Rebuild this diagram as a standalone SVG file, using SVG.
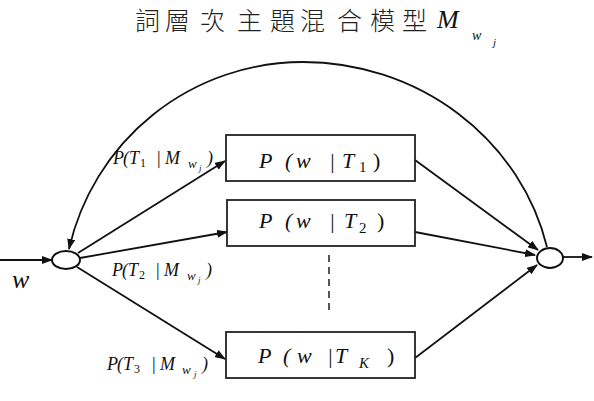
<svg xmlns="http://www.w3.org/2000/svg" width="594" height="401" viewBox="0 0 594 401">
<style>
.ln{fill:none;stroke:#111;stroke-width:1.8}
.box{fill:#fff;stroke:#222;stroke-width:1.8}
.node{fill:#fff;stroke:#111;stroke-width:2}
.it{font-family:"Liberation Serif","Times New Roman",serif;font-style:italic;fill:#111}
.rm{font-family:"Liberation Serif","Times New Roman",serif;fill:#111}
.cjk{font-family:"Noto Sans CJK TC","Noto Sans CJK SC",sans-serif;fill:#222;font-size:25px;font-weight:300}
</style>
<defs>
<marker id="ah" markerUnits="userSpaceOnUse" markerWidth="11" markerHeight="8" refX="10" refY="4" orient="auto">
<path d="M0,0 L11,4 L0,8 z" fill="#111"/>
</marker>
</defs>
<rect width="594" height="401" fill="#fff"/>
<g id="title">
<text class="cjk" y="30"><tspan x="135">詞</tspan><tspan x="165">層</tspan><tspan x="200">次</tspan><tspan x="237">主</tspan><tspan x="270">題</tspan><tspan x="300">混</tspan><tspan x="337">合</tspan><tspan x="370">模</tspan><tspan x="402">型</tspan></text>
<text class="it" x="437" y="28" font-size="26">M</text>
<text class="it" x="472" y="40" font-size="14">w</text>
<text class="it" x="493" y="46" font-size="11">j</text>
</g>
<g id="connectors">
<line class="ln" x1="0" y1="260" x2="52" y2="260" marker-end="url(#ah)"/>
<line class="ln" x1="562" y1="257" x2="592" y2="257" marker-end="url(#ah)"/>
<path class="ln" d="M547,247 A251,240 0 0 0 303,62 A240,240 0 0 0 69,249" marker-end="url(#ah)"/>
<line class="ln" x1="78" y1="253" x2="225" y2="161" marker-end="url(#ah)"/>
<line class="ln" x1="80" y1="258" x2="227" y2="232" marker-end="url(#ah)"/>
<line class="ln" x1="77" y1="267" x2="225" y2="359" marker-end="url(#ah)"/>
<line class="ln" x1="415" y1="160" x2="538" y2="250" marker-end="url(#ah)"/>
<line class="ln" x1="415" y1="232" x2="535" y2="255" marker-end="url(#ah)"/>
<line class="ln" x1="415" y1="358" x2="537" y2="265" marker-end="url(#ah)"/>
<line x1="329" y1="255" x2="329" y2="315" stroke="#555" stroke-width="2" stroke-dasharray="7,5"/>
</g>
<g id="in-node"><ellipse class="node" cx="66" cy="260" rx="14" ry="9"/></g>
<g id="out-node"><ellipse class="node" cx="550" cy="258" rx="13" ry="10"/></g>
<g id="box1">
<rect class="box" x="226" y="135" width="189" height="46"/>
<text class="it" y="168" font-size="22"><tspan x="259">P</tspan><tspan class="rm" x="285">(</tspan><tspan x="296">w</tspan><tspan class="rm" x="329">|</tspan><tspan x="342">T</tspan></text>
<text class="rm" x="359" y="172" font-size="15">1</text>
<text class="rm" x="373" y="168" font-size="22">)</text>
</g>
<g id="box2">
<rect class="box" x="227" y="200" width="188" height="46"/>
<text class="it" y="228" font-size="22"><tspan x="259">P</tspan><tspan class="rm" x="285">(</tspan><tspan x="296">w</tspan><tspan class="rm" x="329">|</tspan><tspan x="344">T</tspan></text>
<text class="rm" x="359" y="233" font-size="15">2</text>
<text class="rm" x="377" y="228" font-size="22">)</text>
</g>
<g id="box3">
<rect class="box" x="226" y="332" width="189" height="46"/>
<text class="it" y="363" font-size="22"><tspan x="258">P</tspan><tspan class="rm" x="283">(</tspan><tspan x="297">w</tspan><tspan class="rm" x="327">|</tspan><tspan x="335">T</tspan></text>
<text class="it" x="359" y="368" font-size="15">K</text>
<text class="rm" x="387" y="363" font-size="22">)</text>
</g>
<g id="label1">
<text class="it" y="164" font-size="18"><tspan x="113">P</tspan><tspan class="rm" x="123">(</tspan><tspan x="129">T</tspan><tspan class="rm" x="156">|</tspan><tspan x="165">M</tspan><tspan class="rm" x="207">)</tspan></text>
<text class="rm" x="140" y="167" font-size="12">1</text>
<text class="it" x="188" y="168" font-size="13">w</text>
<text class="it" x="199" y="171" font-size="9">j</text>
</g>
<g id="label2">
<text class="it" y="276" font-size="18"><tspan x="112">P</tspan><tspan class="rm" x="122">(</tspan><tspan x="128">T</tspan><tspan class="rm" x="155">|</tspan><tspan x="164">M</tspan><tspan class="rm" x="206">)</tspan></text>
<text class="rm" x="139" y="279" font-size="12">2</text>
<text class="it" x="187" y="280" font-size="13">w</text>
<text class="it" x="198" y="283" font-size="9">j</text>
</g>
<g id="label3">
<text class="it" y="370" font-size="18"><tspan x="107">P</tspan><tspan class="rm" x="117">(</tspan><tspan x="123">T</tspan><tspan class="rm" x="151">|</tspan><tspan x="160">M</tspan><tspan class="rm" x="202">)</tspan></text>
<text class="rm" x="134" y="373" font-size="12">3</text>
<text class="it" x="182" y="374" font-size="13">w</text>
<text class="it" x="194" y="377" font-size="9">j</text>
</g>
<g id="w-label">
<text class="it" x="12" y="288" font-size="26">w</text>
</g>
</svg>
